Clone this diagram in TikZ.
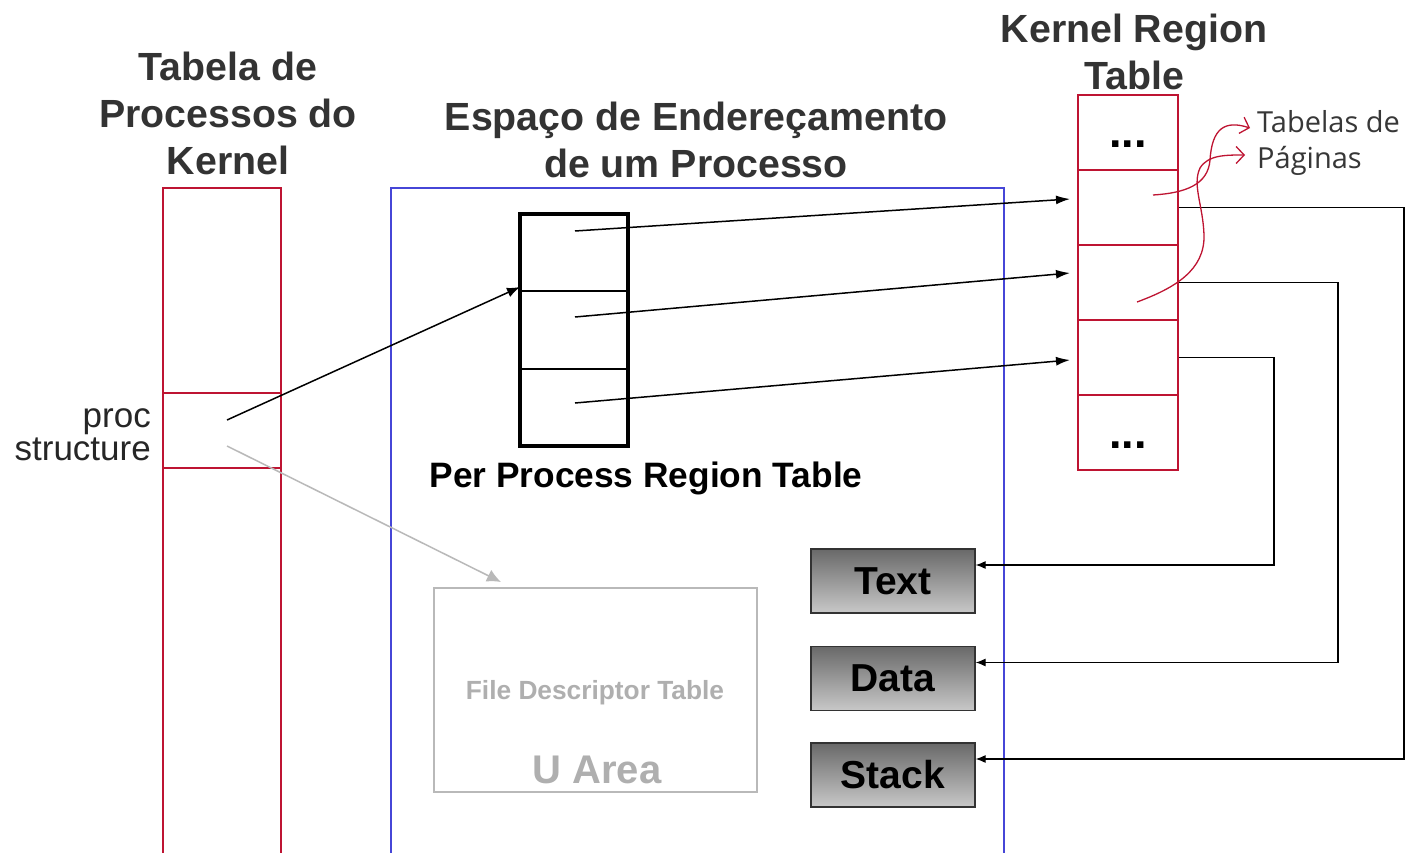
\documentclass[tikz,border=0pt]{standalone}
\usepackage{fontspec}
\setmainfont{Liberation Sans}
\newfontfamily\handfont{Open Sans}
\usetikzlibrary{arrows.meta}
\definecolor{kred}{RGB}{190,20,50}
\definecolor{ublue}{RGB}{70,70,215}
\definecolor{ugray}{RGB}{185,185,185}
\definecolor{utext}{RGB}{175,175,175}
\definecolor{segtop}{RGB}{105,105,105}
\definecolor{segbot}{RGB}{200,200,200}
\definecolor{hand}{RGB}{55,55,55}
\begin{document}
\begin{tikzpicture}[x=1pt,y=-1pt,
  title/.style={font=\fontsize{39.3}{47}\selectfont\bfseries, text=black!80, align=center, inner sep=0},
  krow/.style={draw=kred, line width=2, minimum width=100, minimum height=75, inner sep=0},
  segbox/.style={draw=black!80, line width=1.2, minimum width=164, minimum height=64, inner sep=0,
     top color=segtop, bottom color=segbot, font=\fontsize{39}{40}\selectfont\bfseries},
  ptr/.style={line width=1.5, -{Latex[length=14,width=9]}},
  segarrow/.style={line width=1.2, -{Latex[length=10,width=8]}},
  redcurve/.style={kred, line width=1.3, -{Straight Barb[length=8,width=17]}},
  dots/.style={font=\fontsize{45}{45}\selectfont\bfseries, inner sep=0, anchor=base}
]
\useasboundingbox (0,0) rectangle (1410,853);
\fill[white] (0,0) rectangle (1410,853);

% titles
\node[title] (t1) at (228,113) {Tabela de\\Processos do\\Kernel};
\node[title] (t2) at (696,140) {Espaço de Endereçamento\\de um Processo};
\node[title] (t3) at (1134,52) {Kernel Region\\Table};

% left kernel process table
\draw[kred, line width=2] (163,853) -- (163,188) -- (281,188) -- (281,853);
\draw[kred, line width=2] (163,393) -- (281,393);
\draw[kred, line width=2] (163,468) -- (281,468);
\node[font=\fontsize{35}{33}\selectfont, align=right, anchor=east, inner sep=0, text=black!85] (proc) at (151,435) {proc\\structure};

% blue address space
\draw[ublue, line width=1.5] (391,853) -- (391,188) -- (1004,188) -- (1004,853);

% per process region table
\node[draw, line width=4, minimum width=108, minimum height=232, inner sep=0] (ppt) at (574,330) {};
\draw[line width=2] (520,291) -- (628,291);
\draw[line width=2] (520,369) -- (628,369);
\node[font=\fontsize{35.3}{40}\selectfont\bfseries, inner sep=0] (pptl) at (646,478) {Per Process Region Table};

% kernel region table
\node[krow] (k1) at (1128,132.5) {};
\node[krow] (k2) at (1128,207.5) {};
\node[krow] (k3) at (1128,282.5) {};
\node[krow] (k4) at (1128,357.5) {};
\node[krow] (k5) at (1128,432.5) {};
\node[dots] (d1) at (1128,148) {...};
\node[dots] (d2) at (1128,448) {...};

% U area
\node[draw=ugray, line width=2, minimum width=323, minimum height=204, inner sep=0] (uarea) at (595.5,690) {};
\node[font=\fontsize{26.3}{30}\selectfont\bfseries, text=utext, inner sep=0] (fdt) at (595,693) {File Descriptor Table};
\node[font=\fontsize{40}{44}\selectfont\bfseries, text=utext, inner sep=0] (ual) at (597,770) {U Area};

% segments
\node[segbox] (text) at (893,581) {Text};
\node[segbox] (data) at (893,678.5) {Data};
\node[segbox] (stack) at (893,775) {Stack};

% pointer coordinates
\coordinate (s1) at (575,231);
\coordinate (s2) at (575,317);
\coordinate (s3) at (575,403);
\coordinate (e1) at (1070,199);
\coordinate (e2) at (1070,273);
\coordinate (e3) at (1070,360);
\coordinate (pa) at (227,420);
\coordinate (pb) at (227,446);
\coordinate (pt) at (520,287);
\coordinate (ut) at (501,582);

\draw[ptr] (s1) -- (e1);
\draw[ptr] (s2) -- (e2);
\draw[ptr] (s3) -- (e3);
\draw[line width=1.5, -{Latex[length=13,width=10]}] (pa) -- (pt);
\draw[ugray, line width=1.5, -{Latex[length=14,width=13]}] (pb) -- (ut);

% kernel region -> segments
\draw[segarrow] (k2.east) -- (1404,207.5) |- ([yshift=16]stack.east);
\draw[segarrow] (k3.east) -- (1338,282.5) |- ([yshift=16]data.east);
\draw[segarrow] (k4.east) -- (1274,357.5) |- ([yshift=16]text.east);

% page tables
\coordinate (ca) at (1153,195);
\coordinate (cb) at (1137,302);
\coordinate (ta) at (1250,128);
\coordinate (tb) at (1245,155);
\draw[redcurve] (ca) .. controls (1185,193) and (1208,185) .. (1210,160) .. controls (1212,128) and (1225,120) .. (ta);
\draw[redcurve] (cb) .. controls (1175,288) and (1205,270) .. (1204,235) .. controls (1203,205) and (1192,185) .. (1200,168) .. controls (1208,155) and (1225,155) .. (tb);
\node[font=\handfont\fontsize{29}{36}\selectfont, text=hand, align=left, anchor=north west, inner sep=0] (pag) at (1257,110) {Tabelas de\\Páginas};
\end{tikzpicture}
\end{document}
